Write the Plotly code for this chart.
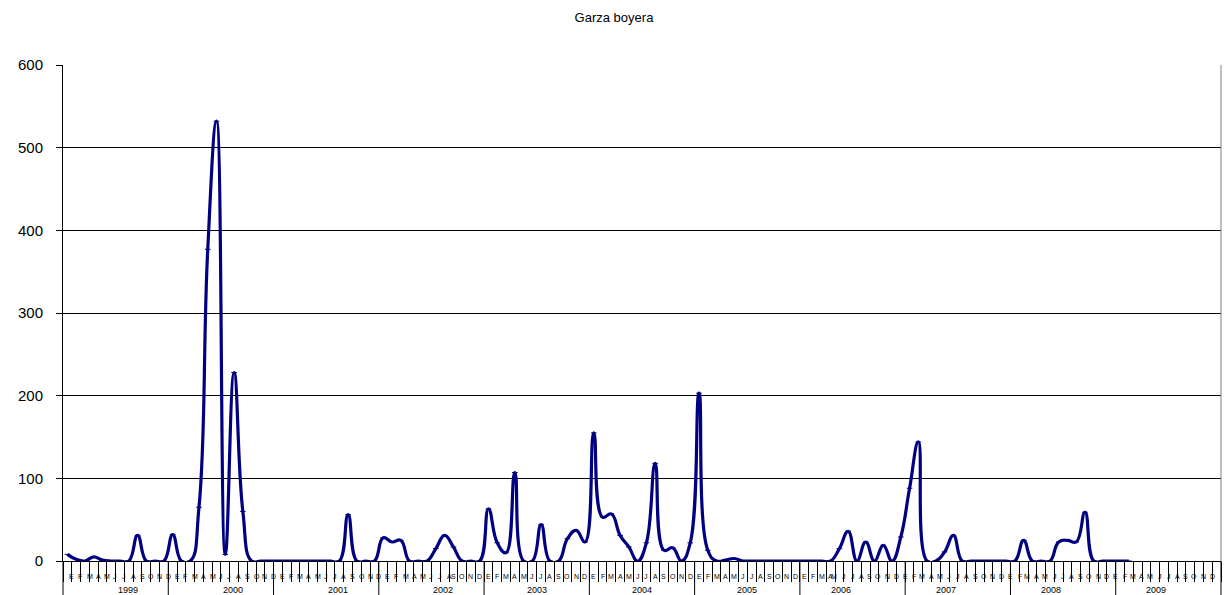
import plotly.graph_objects as go

months = ["E", "F", "M", "A", "M", "J", "J", "A", "S", "O", "N", "D"]
years = ["1999", "2000", "2001", "2002", "2003", "2004", "2005", "2006", "2007", "2008", "2009"]

v1999 = [8, 2, 0, 5, 1, 0, 0, 0, 31, 0, 0, 0]
v2000 = [32, 0, 0, 65, 377, 532, 8, 228, 60, 0, 0, 0]
v2001 = [0, 0, 0, 0, 0, 0, 0, 0, 56, 0, 0, 0]
v2002 = [28, 23, 25, 0, 0, 0, 15, 31, 17, 0, 0, 0]
v2003 = [63, 22, 10, 107, 0, 0, 44, 0, 0, 27, 37, 23]
v2004 = [155, 53, 57, 31, 17, 0, 22, 118, 13, 16, 0, 22]
v2005 = [203, 13, 0, 1, 3, 0, 0, 0, 0, 0, 0, 0]
v2006 = [0, 0, 0, 0, 15, 36, 0, 23, 0, 19, 0, 29]
v2007 = [88, 144, 0, 0, 11, 31, 0, 0, 0, 0, 0, 0]
v2008 = [0, 25, 0, 0, 0, 23, 25, 23, 59, 0, 0, 0]
v2009 = [0, 0, None, None, None, None, None, None, None, None, None, None]

values = v1999 + v2000 + v2001 + v2002 + v2003 + v2004 + v2005 + v2006 + v2007 + v2008 + v2009
n = len(values)
xpos = [i + 0.5 for i in range(n)]

FONT = "Liberation Sans, Arial, sans-serif"

fig = go.Figure()
fig.add_trace(go.Scatter(
    x=xpos, y=values, mode="lines+markers",
    line=dict(color="#000080", width=3.2, shape="spline", smoothing=1.3),
    marker=dict(symbol="line-ew", size=4, line=dict(color="#000080", width=1), color="#000080"),
    connectgaps=False, showlegend=False, hoverinfo="x+y",
))

annotations = []
for i in range(n):
    annotations.append(dict(
        x=(i + 0.5) / n, xref="paper", y=0, yref="paper",
        text=months[i % 12], showarrow=False, yanchor="middle", yshift=-15,
        font=dict(family=FONT, size=7, color="#000000"),
    ))
for k, yr in enumerate(years):
    annotations.append(dict(
        x=(k * 12 + 6) / n, xref="paper", y=0, yref="paper",
        text=yr, showarrow=False, yanchor="middle", yshift=-29,
        font=dict(family=FONT, size=9, color="#000000"),
    ))

shapes = []
for k in range(len(years) + 1):
    shapes.append(dict(
        type="line", xref="paper", yref="paper",
        x0=(k * 12) / n, x1=(k * 12) / n, y0=0, y1=-0.07,
        line=dict(color="#000000", width=1),
    ))
# right border of plot area
shapes.append(dict(type="line", xref="paper", yref="paper", x0=1, x1=1, y0=0, y1=1,
                   line=dict(color="#808080", width=1)))

fig.update_layout(
    width=1228, height=595,
    margin=dict(l=63, r=7, t=65, b=34, autoexpand=False),
    paper_bgcolor="white", plot_bgcolor="white",
    title=dict(text="Garza boyera", x=0.5, xref="container", xanchor="center",
               y=1 - 17 / 595, yref="container", yanchor="middle",
               font=dict(family=FONT, size=13, color="#000000")),
    font=dict(family=FONT, color="#000000"),
    annotations=annotations,
    shapes=shapes,
    xaxis=dict(
        range=[0, n], tickmode="array", tickvals=list(range(n + 1)),
        showticklabels=False, ticks="outside", ticklen=20, tickwidth=1, tickcolor="#000000",
        showgrid=False, zeroline=False, showline=True, linecolor="#000000", linewidth=1,
        automargin=False, fixedrange=True,
    ),
    yaxis=dict(
        range=[0, 600], tickmode="linear", tick0=0, dtick=100,
        ticks="outside", ticklen=6, tickwidth=1, tickcolor="#000000",
        tickfont=dict(family=FONT, size=15, color="#000000"), ticklabelstandoff=10,
        showgrid=True, gridcolor="#000000", gridwidth=1,
        zeroline=False, showline=True, linecolor="#000000", linewidth=1,
        automargin=False, fixedrange=True,
    ),
)

fig.write_html("out.html", config={"displayModeBar": False},
               post_script="document.body.style.margin='0px';")
